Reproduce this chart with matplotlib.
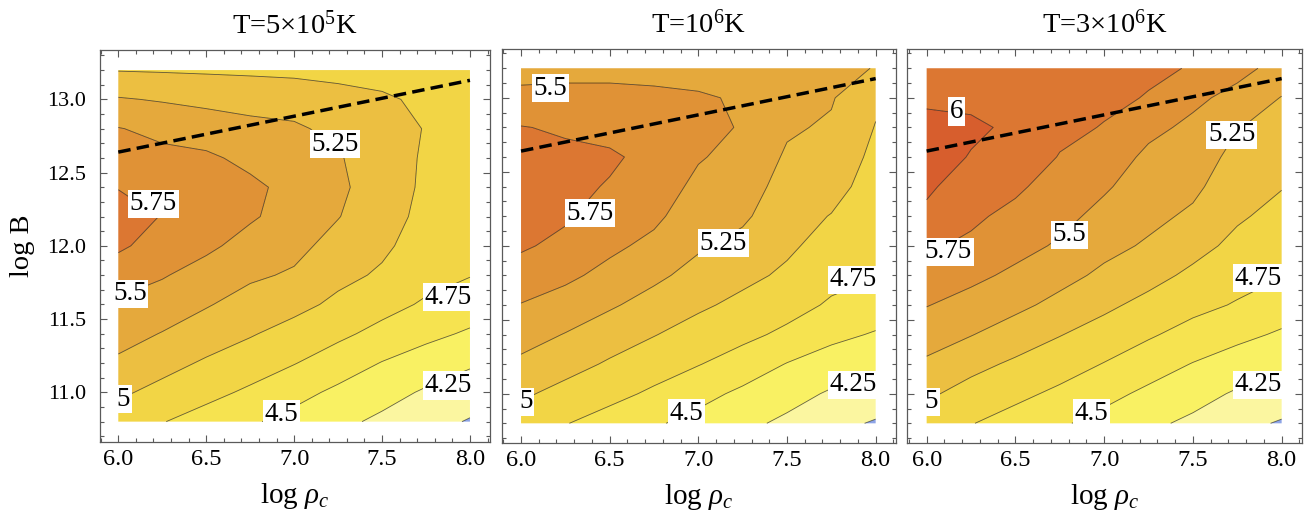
import numpy as np
import matplotlib
matplotlib.use('Agg')
import matplotlib.pyplot as plt
from matplotlib.ticker import MultipleLocator, FormatStrFormatter

plt.rcParams['font.family'] = ['Liberation Serif', 'DejaVu Serif']
plt.rcParams['mathtext.fontset'] = 'custom'
plt.rcParams['mathtext.rm'] = 'Liberation Serif'
plt.rcParams['mathtext.it'] = 'Liberation Serif:italic'

# ---------------- data ----------------
log_rho = [6.0, 6.25, 6.5, 6.75, 7.0, 7.25, 7.5, 7.75, 8.0]
log_B = [10.8, 11.0, 11.2, 11.4, 11.6, 11.8, 12.0, 12.2, 12.4, 12.6, 12.8, 13.0, 13.2]

# each inner list: values along log_B for one log_rho column
panel1_cols = [
    [4.88, 5.04, 5.21, 5.34, 5.46, 5.62, 5.79, 5.86, 5.74, 5.62, 5.51, 5.27, 4.99],
    [4.76, 4.93, 5.08, 5.24, 5.38, 5.52, 5.65, 5.74, 5.65, 5.56, 5.44, 5.23, 4.98],
    [4.65, 4.82, 4.97, 5.12, 5.27, 5.40, 5.55, 5.62, 5.63, 5.54, 5.38, 5.19, 4.97],
    [4.53, 4.71, 4.87, 5.02, 5.15, 5.29, 5.41, 5.53, 5.55, 5.44, 5.32, 5.16, 4.96],
    [4.42, 4.58, 4.76, 4.91, 5.07, 5.22, 5.32, 5.40, 5.43, 5.38, 5.29, 5.13, 4.95],
    [4.31, 4.45, 4.63, 4.80, 4.95, 5.06, 5.16, 5.26, 5.30, 5.27, 5.18, 5.07, 4.94],
    [4.20, 4.34, 4.49, 4.68, 4.83, 4.97, 5.04, 5.09, 5.12, 5.12, 5.09, 5.03, 4.92],
    [4.09, 4.22, 4.39, 4.56, 4.72, 4.83, 4.90, 4.94, 4.96, 4.97, 4.99, 4.96, 4.88],
    [3.98, 4.13, 4.28, 4.47, 4.62, 4.76, 4.82, 4.86, 4.88, 4.90, 4.91, 4.90, 4.86],
]
panel2_cols = [
    [4.88, 5.04, 5.20, 5.35, 5.49, 5.65, 5.78, 5.85, 5.88, 5.85, 5.76, 5.56, 5.42],
    [4.76, 4.92, 5.09, 5.24, 5.40, 5.55, 5.69, 5.78, 5.82, 5.80, 5.72, 5.56, 5.44],
    [4.65, 4.82, 4.97, 5.12, 5.28, 5.43, 5.55, 5.63, 5.73, 5.79, 5.66, 5.56, 5.44],
    [4.53, 4.71, 4.86, 5.01, 5.16, 5.30, 5.44, 5.55, 5.63, 5.67, 5.65, 5.54, 5.44],
    [4.42, 4.58, 4.76, 4.90, 5.04, 5.17, 5.28, 5.36, 5.44, 5.52, 5.58, 5.52, 5.43],
    [4.31, 4.45, 4.64, 4.81, 4.94, 5.06, 5.18, 5.29, 5.36, 5.42, 5.48, 5.48, 5.42],
    [4.20, 4.34, 4.49, 4.70, 4.84, 4.96, 5.04, 5.10, 5.16, 5.22, 5.28, 5.33, 5.36],
    [4.09, 4.22, 4.39, 4.56, 4.72, 4.82, 4.91, 4.99, 5.09, 5.16, 5.22, 5.27, 5.32],
    [3.97, 4.18, 4.34, 4.48, 4.63, 4.76, 4.80, 4.85, 4.89, 4.94, 4.99, 5.04, 5.24],
]
panel3_cols = [
    [4.88, 5.04, 5.21, 5.36, 5.51, 5.63, 5.78, 5.95, 6.04, 6.08, 6.05, 5.97, 5.90],
    [4.76, 4.91, 5.07, 5.26, 5.41, 5.56, 5.71, 5.79, 5.88, 5.99, 6.03, 5.96, 5.89],
    [4.65, 4.81, 4.96, 5.13, 5.31, 5.45, 5.58, 5.69, 5.79, 5.88, 5.97, 5.94, 5.88],
    [4.53, 4.70, 4.86, 5.01, 5.18, 5.33, 5.47, 5.57, 5.65, 5.74, 5.80, 5.84, 5.85],
    [4.42, 4.57, 4.74, 4.90, 5.05, 5.20, 5.32, 5.43, 5.53, 5.63, 5.74, 5.79, 5.81],
    [4.30, 4.45, 4.61, 4.78, 4.93, 5.08, 5.22, 5.31, 5.38, 5.45, 5.56, 5.74, 5.78],
    [4.20, 4.34, 4.49, 4.66, 4.82, 4.95, 5.08, 5.21, 5.30, 5.37, 5.45, 5.55, 5.74],
    [4.09, 4.22, 4.39, 4.56, 4.73, 4.84, 4.94, 5.03, 5.11, 5.18, 5.26, 5.43, 5.57],
    [3.97, 4.18, 4.34, 4.47, 4.62, 4.76, 4.84, 4.93, 5.01, 5.09, 5.17, 5.24, 5.42],
]

titles = ['T=5\u00d710$^{5}$K', 'T=10$^{6}$K', 'T=3\u00d710$^{6}$K']

fill_levels = [3.5, 4.0, 4.25, 4.5, 4.75, 5.0, 5.25, 5.5, 5.75, 6.0, 6.5]
line_levels = [4.0, 4.25, 4.5, 4.75, 5.0, 5.25, 5.5, 5.75, 6.0]
band_colors = ['#8da4e6', '#fbf6a0', '#f9f163', '#f6e350', '#f2d545',
               '#ecbf41', '#e5a93c', '#e09236', '#dc7732', '#d75e2d']

# dashed line
dash_x = [6.0, 8.0]
dash_y = [12.64, 13.13]

# contour labels: (text, log_rho, log_B)
labels_p1 = [('5.25', 7.232, 12.694), ('5.75', 6.199, 12.288), ('5.5', 6.066, 11.673),
             ('4.75', 7.877, 11.65), ('5', 6.028, 10.954), ('4.25', 7.877, 11.046),
             ('4.5', 6.929, 10.852)]
labels_p2 = [('5.5', 6.164, 13.065), ('5.75', 6.389, 12.22), ('5.25', 7.141, 12.017),
             ('4.75', 7.874, 11.769), ('5', 6.028, 10.946), ('4.5', 6.934, 10.867),
             ('4.25', 7.874, 11.059)]
labels_p3 = [('6', 6.169, 12.907), ('5.25', 7.718, 12.749), ('5.5', 6.802, 12.073),
             ('5.75', 6.122, 11.96), ('4.75', 7.869, 11.78), ('5', 6.028, 10.946),
             ('4.5', 6.93, 10.867), ('4.25', 7.869, 11.059)]

panels = [panel1_cols, panel2_cols, panel3_cols]
all_labels = [labels_p1, labels_p2, labels_p3]

# ---------------- layout ----------------
W, H = 1314, 521
fig = plt.figure(figsize=(W / 100, H / 100), dpi=100)
frames = [(100.0, 50.0, 490.0, 441.7), (501.7, 49.3, 895.7, 442.7), (907.3, 49.3, 1301.7, 442.7)]
xlims = [(5.896, 8.114), (5.891, 8.113), (5.891, 8.113)]
ylims = [(10.663, 13.337), (10.669, 13.328), (10.669, 13.328)]

X, Y = np.meshgrid(log_rho, log_B)
frame_col = '#5a5a5a'

for i in range(3):
    l, t, r, b = frames[i]
    ax = fig.add_axes([l / W, 1 - b / H, (r - l) / W, (b - t) / H])
    Z = np.array(panels[i]).T
    ax.contourf(X, Y, Z, levels=fill_levels, colors=band_colors, antialiased=True)
    ax.contour(X, Y, Z, levels=line_levels, colors='k', linewidths=0.6, alpha=0.6)
    ax.plot(dash_x, dash_y, color='k', lw=2.5, dashes=(3.6, 1.8), zorder=4)
    for s, lx, ly in all_labels[i]:
        ax.text(lx, ly, s, ha='center', va='center', fontsize=19.5, zorder=6, clip_on=False,
                bbox=dict(boxstyle='square,pad=0.06', fc='white', ec='none'))
    ax.set_xlim(*xlims[i])
    ax.set_ylim(*ylims[i])
    ax.xaxis.set_major_locator(MultipleLocator(0.5))
    ax.xaxis.set_minor_locator(MultipleLocator(0.1))
    ax.yaxis.set_major_locator(MultipleLocator(0.5))
    ax.yaxis.set_minor_locator(MultipleLocator(0.1))
    ax.xaxis.set_major_formatter(FormatStrFormatter('%.1f'))
    ax.yaxis.set_major_formatter(FormatStrFormatter('%.1f'))
    ax.tick_params(which='both', direction='in', top=True, right=True, color=frame_col,
                   width=0.8)
    ax.tick_params(which='major', length=5.2)
    ax.tick_params(which='minor', length=3.0)
    ax.tick_params(axis='x', pad=5, labelsize=17.5)
    ax.tick_params(axis='y', pad=10, labelsize=16)
    for sp in ax.spines.values():
        sp.set_color(frame_col)
        sp.set_linewidth(0.9)
    if i > 0:
        ax.tick_params(axis='y', labelleft=False)
    else:
        ax.set_ylabel('log B', fontsize=20.5, labelpad=9)
    ax.set_xlabel(r'log $\rho_c$', fontsize=21, labelpad=8)
    ax.set_title(titles[i], fontsize=20.5, pad=12)

fig.savefig('out.png', dpi=100)
